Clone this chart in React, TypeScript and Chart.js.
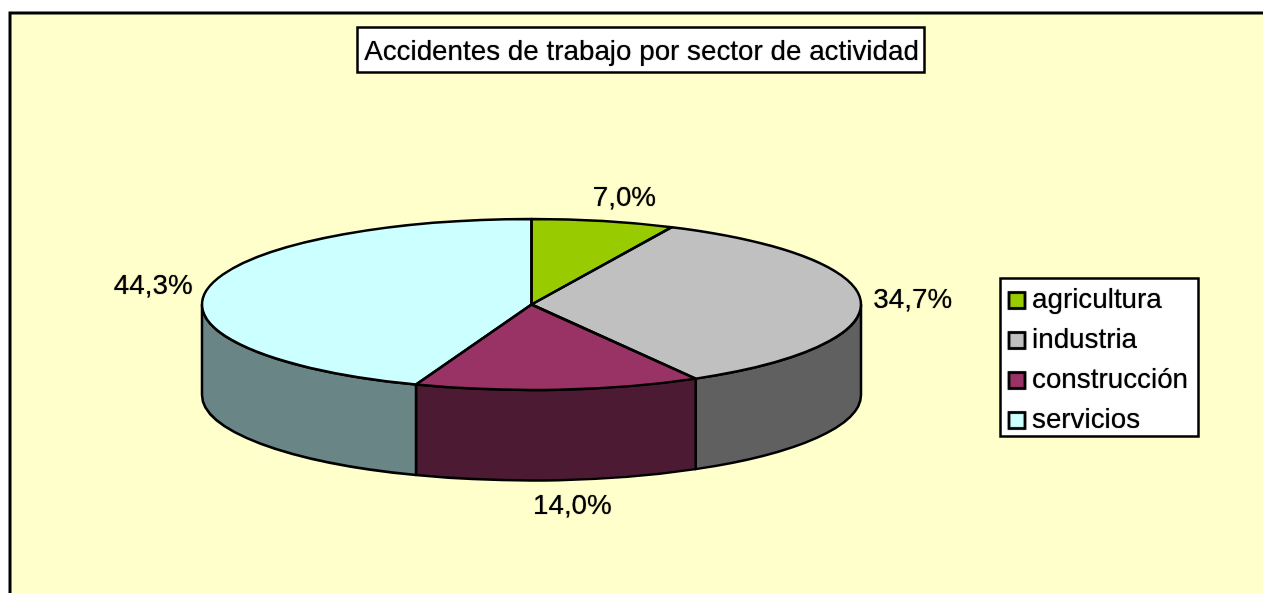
import React, { useEffect, useRef } from "react";
import { Chart, registerables } from "chart.js";

Chart.register(...registerables);

const titleText = "Accidentes de trabajo por sector de actividad";
const categories = ["agricultura", "industria", "construcción", "servicios"];
const shares = [7.0, 34.7, 14.0, 44.3];
const topColors = ["#99CC00", "#C0C0C0", "#993366", "#CCFFFF"];
const wallColors = ["#4D6600", "#606060", "#4D1A33", "#6A8585"];

const FONT = "'Liberation Sans', Arial, sans-serif";
const FONT_SIZE = 27.8;
const SQUASH = 85.5 / 329.5;
const DEPTH = 90.5;
const labelNudges = [
  [21, -23],
  [52, -1],
  [14, 26],
  [-54, -3],
];

const fmt = (v: number) => v.toFixed(1).replace(".", ",") + "%";

const pie3d = {
  id: "pie3d",
  afterLayout(chart: any) {
    // The ellipse's bounding box is the plot area; title and legend sit in their own frames.
    Object.assign(chart.chartArea, { left: 202, right: 861, top: 219, bottom: 390, width: 659, height: 171 });
    const t = chart.titleBlock;
    if (t) Object.assign(t, { left: 357, right: 926, top: 28.5, bottom: 73, width: 569, height: 44.5 });
    const l = chart.legend;
    if (l) Object.assign(l, { left: 1003.7, right: 1199, top: 274.5, bottom: 490, width: 195.3, height: 215.5 });
  },
  beforeDraw(chart: any) {
    const { ctx, width, height } = chart;
    ctx.save();
    ctx.fillStyle = "#FFFFFF";
    ctx.fillRect(0, 0, width, height);
    ctx.fillStyle = "#FFFFCC";
    ctx.fillRect(10, 13, width - 10, height - 13);
    ctx.strokeStyle = "#000";
    ctx.lineWidth = 3;
    ctx.beginPath();
    ctx.moveTo(10, height);
    ctx.lineTo(10, 13);
    ctx.lineTo(width, 13);
    ctx.stroke();
    ctx.fillStyle = "#FFFFFF";
    ctx.lineWidth = 2.5;
    ctx.beginPath();
    ctx.rect(357.5, 27.5, 567, 45);
    ctx.rect(1000.5, 278.5, 198, 158);
    ctx.fill();
    ctx.stroke();
    ctx.restore();
    // Slightly heavier, softer type for the title and the legend, which draw next.
    ctx.shadowColor = "rgba(0,0,0,0.75)";
    ctx.shadowBlur = 1;
  },
  beforeDatasetsDraw(chart: any) {
    const { ctx } = chart;
    ctx.shadowColor = "transparent";
    ctx.shadowBlur = 0;
    const arcs = chart.getDatasetMeta(0).data;
    ctx.save();
    ctx.strokeStyle = "#000";
    ctx.lineWidth = 2.5;
    ctx.lineJoin = "round";
    arcs.forEach((arc: any, i: number) => {
      const { x, y, startAngle, endAngle, outerRadius } = arc.getProps(["x", "y", "startAngle", "endAngle", "outerRadius"]);
      const a0 = Math.max(startAngle, 0);
      const a1 = Math.min(endAngle, Math.PI);
      if (a1 <= a0) return;
      const ry = outerRadius * SQUASH;
      ctx.beginPath();
      ctx.ellipse(x, y + DEPTH, outerRadius, ry, 0, a0, a1);
      ctx.ellipse(x, y, outerRadius, ry, 0, a1, a0, true);
      ctx.closePath();
      ctx.fillStyle = wallColors[i];
      ctx.fill();
      ctx.stroke();
    });
    ctx.restore();
  },
  beforeDatasetDraw(chart: any) {
    const { ctx } = chart;
    const arc = chart.getDatasetMeta(0).data[0];
    ctx.save();
    ctx.translate(0, arc.y);
    ctx.scale(1, SQUASH);
    ctx.translate(0, -arc.y);
  },
  afterDatasetDraw(chart: any) {
    chart.ctx.restore();
  },
  afterDatasetsDraw(chart: any) {
    const { ctx } = chart;
    const arcs = chart.getDatasetMeta(0).data;
    ctx.save();
    ctx.strokeStyle = "#000";
    ctx.lineWidth = 2.5;
    ctx.lineJoin = "round";
    arcs.forEach((arc: any) => {
      const { x, y, startAngle, endAngle, outerRadius } = arc.getProps(["x", "y", "startAngle", "endAngle", "outerRadius"]);
      const ry = outerRadius * SQUASH;
      ctx.beginPath();
      ctx.moveTo(x, y);
      ctx.ellipse(x, y, outerRadius, ry, 0, startAngle, endAngle);
      ctx.closePath();
      ctx.stroke();
    });
    ctx.fillStyle = "#000";
    ctx.font = `${FONT_SIZE}px ${FONT}`;
    ctx.textAlign = "center";
    ctx.textBaseline = "middle";
    ctx.shadowColor = "rgba(0,0,0,0.75)";
    ctx.shadowBlur = 1;
    arcs.forEach((arc: any, i: number) => {
      const { x, y, startAngle, endAngle, outerRadius } = arc.getProps(["x", "y", "startAngle", "endAngle", "outerRadius"]);
      const mid = (startAngle + endAngle) / 2;
      const px = x + Math.cos(mid) * outerRadius;
      const lower = Math.sin(mid) > 0.5 ? DEPTH : 0;
      const py = y + Math.sin(mid) * outerRadius * SQUASH + lower;
      ctx.fillText(fmt(shares[i]), px + labelNudges[i][0], py + labelNudges[i][1]);
    });
    ctx.restore();
  },
};

export default function App() {
  const ref = useRef<HTMLCanvasElement | null>(null);
  useEffect(() => {
    const canvas = ref.current;
    if (!canvas) return;
    const baseLabels = (Chart as any).overrides.pie.plugins.legend.labels.generateLabels;
    const chart = new Chart(canvas, {
      type: "pie",
      data: {
        labels: categories,
        datasets: [
          {
            data: shares,
            backgroundColor: topColors,
            borderWidth: 0,
            clip: false,
          } as any,
        ],
      },
      options: {
        responsive: false,
        animation: false,
        radius: 329.5,
        rotation: 0,
        plugins: {
          tooltip: { enabled: false },
          title: {
            display: true,
            text: titleText,
            color: "#000",
            align: "center",
            padding: { top: 10, bottom: 10 },
            font: { family: FONT, size: FONT_SIZE, weight: "normal", lineHeight: 1 },
          },
          legend: {
            display: true,
            position: "right",
            align: "start",
            labels: {
              usePointStyle: true,
              pointStyle: "rect",
              boxWidth: 2.2,
              boxHeight: 16,
              padding: 12.2,
              color: "#000",
              font: { family: FONT, size: FONT_SIZE, lineHeight: 1 },
              generateLabels: (c: any) =>
                baseLabels(c).map((item: any) => ({ ...item, strokeStyle: "#000", lineWidth: 2.5 })),
            },
          },
        },
      } as any,
      plugins: [pie3d],
    });
    return () => chart.destroy();
  }, []);
  return (
    <div style={{ position: "fixed", left: 0, top: 0, width: 1263, height: 593 }}>
      <canvas ref={ref} width={1263} height={593} style={{ display: "block" }} />
    </div>
  );
}
